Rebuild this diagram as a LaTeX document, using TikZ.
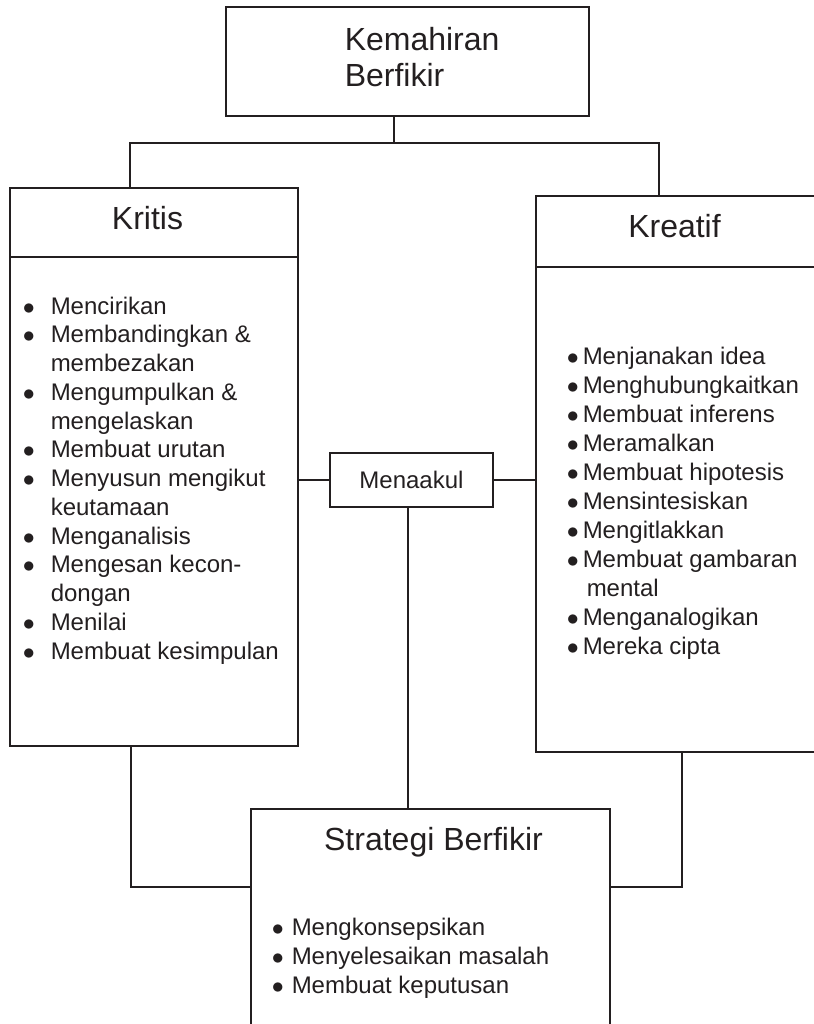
\documentclass[tikz,border=0pt]{standalone}
\usepackage{fontspec}
\setmainfont{Liberation Sans}
\usetikzlibrary{calc}
\definecolor{ink}{HTML}{231F20}
\newcommand{\bul}[1]{\makebox[#1][l]{$\bullet$}}

\begin{document}
\begin{tikzpicture}[x=0.5pt, y=-0.5pt, line width=0.75pt,
  every node/.style={color=ink, inner sep=0pt},
  box/.style={draw=ink, rectangle, line width=0.75pt},
  title/.style={font=\fontsize{16}{18}\selectfont, anchor=base},
  items/.style={anchor=base west}]
  \useasboundingbox (0,0) rectangle (814,1024);
  \clip (0,0) rectangle (814,1024);

  % boxes
  \node[box, minimum width=181.5pt, minimum height=54.5pt] (top) at (407.5,61.5) {};
  \node[box, minimum width=144pt, minimum height=279pt] (kritis) at (154,467) {};
  \node[box, minimum width=147pt, minimum height=278pt] (kreatif) at (683,474) {};
  \node[box, minimum width=81.5pt, minimum height=27pt, font=\fontsize{12}{14}\selectfont] (menaakul) at (411.5,480) {Menaakul};
  \node[box, minimum width=179.5pt, minimum height=120.5pt] (strategi) at (430.5,929.5) {};

  \draw[ink] (kritis.west |- 0,257) -- (kritis.east |- 0,257);
  \draw[ink] (kreatif.west |- 0,267) -- (kreatif.east |- 0,267);

  % connectors
  \coordinate (fork) at (394,143);
  \coordinate (kl) at (130,143);
  \coordinate (kr) at (659,143);
  \coordinate (mid) at (408,480);
  \coordinate (bl) at (131,887);
  \coordinate (br) at (682,887);
  \draw[ink] (fork |- top.south) -- (fork);
  \draw[ink] (kl |- kritis.north) -- (kl) -- (kr) -- (kr |- kreatif.north);
  \draw[ink] (kritis.east |- menaakul.west) -- (menaakul.west);
  \draw[ink] (menaakul.east) -- (kreatif.west |- menaakul.east);
  \draw[ink] (mid |- menaakul.south) -- (mid |- strategi.north);
  \draw[ink] (bl |- kritis.south) -- (bl) -- (bl -| strategi.west);
  \draw[ink] (br |- kreatif.south) -- (br) -- (br -| strategi.east);

  % titles
  \node[title, anchor=base west] (kemT) at (344,50)
    {\begin{tabular}[t]{@{}l@{}}Kemahiran\\Berfikir\end{tabular}};
  \node[title] (kritisT) at (147.5,229) {Kritis};
  \node[title] (kreatifT) at (674.5,237) {Kreatif};
  \node[title] (strategiT) at (433.5,850) {Strategi Berfikir};

  % lists
  \node[items, font=\fontsize{12}{14.375}\selectfont] (kritisL) at (22,314)
    {\begin{tabular}[t]{@{}l@{}}
      \bul{14pt}Mencirikan\\
      \bul{14pt}Membandingkan \&\\
      \hspace*{14pt}membezakan\\
      \bul{14pt}Mengumpulkan \&\\
      \hspace*{14pt}mengelaskan\\
      \bul{14pt}Membuat urutan\\
      \bul{14pt}Menyusun mengikut\\
      \hspace*{14pt}keutamaan\\
      \bul{14pt}Menganalisis\\
      \bul{14pt}Mengesan kecon-\\
      \hspace*{14pt}dongan\\
      \bul{14pt}Menilai\\
      \bul{14pt}Membuat kesimpulan
    \end{tabular}};
  \node[items, font=\fontsize{12}{14.5}\selectfont] (kreatifL) at (566,364)
    {\begin{tabular}[t]{@{}l@{}}
      \bul{8pt}Menjanakan idea\\
      \bul{8pt}Menghubungkaitkan\\
      \bul{8pt}Membuat inferens\\
      \bul{8pt}Meramalkan\\
      \bul{8pt}Membuat hipotesis\\
      \bul{8pt}Mensintesiskan\\
      \bul{8pt}Mengitlakkan\\
      \bul{8pt}Membuat gambaran\\
      \hspace*{10pt}mental\\
      \bul{8pt}Menganalogikan\\
      \bul{8pt}Mereka cipta
    \end{tabular}};
  \node[items, font=\fontsize{12}{14.5}\selectfont] (strategiL) at (271,935)
    {\begin{tabular}[t]{@{}l@{}}
      \bul{10pt}Mengkonsepsikan\\
      \bul{10pt}Menyelesaikan masalah\\
      \bul{10pt}Membuat keputusan
    \end{tabular}};
\end{tikzpicture}
\end{document}
